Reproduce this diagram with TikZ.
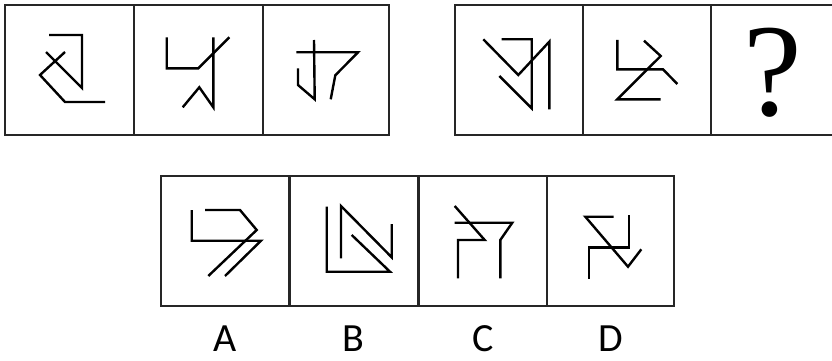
\documentclass[tikz,border=0pt]{standalone}
\usepackage{fontspec}
\newfontfamily\labelfont{Carlito}
\newfontfamily\markfont{Liberation Serif}
\usetikzlibrary{positioning}
\tikzset{
  cellframe/.style={draw=black!85, line width=2.4pt},
  glyph/.style={draw=black, line width=2.4pt, line join=miter},
  optlabel/.style={font=\labelfont\fontsize{40}{40}\selectfont, anchor=base, inner sep=0pt}
}
\begin{document}
\begin{tikzpicture}[x=1pt, y=-1pt]
    \useasboundingbox (0,0) rectangle (832,361);
    % Top-left strip of three cells
    \draw[cellframe] (5,5) rectangle (389,135);
    \draw[cellframe] (134,5) -- (134,135) (263,5) -- (263,135);
    % Top-right strip, open at the page edge
    \draw[cellframe] (833,5) -- (455,5) -- (455,135) -- (833,135);
    \draw[cellframe] (583,5) -- (583,135) (711,5) -- (711,135);
    % Bottom strip of options
    \draw[cellframe] (161,176) rectangle (674,306);
    \draw[cellframe] (289.5,176) -- (289.5,306) (418.5,176) -- (418.5,306) (547,176) -- (547,306);
    % Figures of the first strip
    \draw[glyph] (49,35) -- (82,35) -- (82,88) -- (46,52);
    \draw[glyph] (65,52) -- (40,75) -- (65,102) -- (105,102);
    \draw[glyph] (166.7,37.3) -- (166.7,68.3) -- (198.3,68.3) -- (229.3,37.3);
    \draw[glyph] (213.3,37.3) -- (213.3,107.3) -- (199.3,87.3) -- (182.7,107.3);
    \draw[glyph] (296.3,52.3) -- (358,52.3) -- (335.3,75.3) -- (330.7,99.3);
    \draw[glyph] (314,40) -- (314.7,99.3) -- (298,85) -- (298,68.3);
    % Figures of the second strip
    \draw[glyph] (483.3,39.3) -- (518.3,75) -- (549.3,41.7) -- (549.3,109.3);
    \draw[glyph] (501.7,39.3) -- (531.7,39.3) -- (531.7,108.3) -- (499.3,76);
    \draw[glyph] (617.3,40) -- (617.3,69.3) -- (663,69.3) -- (677.3,84);
    \draw[glyph] (644,40.7) -- (660.7,56) -- (617.3,99.3) -- (660.7,99.3);
    \node[inner sep=0pt, font=\markfont\fontsize{132}{132}\selectfont] (qmark) at (772.5,72.5) {?};
    % Option A
    \draw[glyph] (191.7,210) -- (191.7,240.7) -- (261,240.7) -- (225,276);
    \draw[glyph] (205,210) -- (240,210) -- (256.7,230) -- (208.3,276);
    % Option B
    \draw[glyph] (326.7,206.7) -- (326.7,271.7) -- (390,271.7) -- (351.7,235);
    \draw[glyph] (341,258.3) -- (341,206) -- (391.7,257.3) -- (391.7,224);
    % Option C
    \draw[glyph] (454.7,206) -- (484.7,240) -- (458,240) -- (458,278.3);
    \draw[glyph] (454.7,222.7) -- (512.3,222.7) -- (500.3,240) -- (500.3,278.3);
    % Option D
    \draw[glyph] (613.7,216.7) -- (585.3,216.7) -- (628,266.7) -- (641.3,249.3);
    \draw[glyph] (628.7,215) -- (628.7,247.3) -- (588.7,247.3) -- (588.7,279.3);
    % Option letters
    \node[optlabel] (labA) at (225,351) {A};
    \node[optlabel] (labB) at (353,351) {B};
    \node[optlabel] (labC) at (483,351) {C};
    \node[optlabel] (labD) at (611,351) {D};
\end{tikzpicture}
\end{document}
